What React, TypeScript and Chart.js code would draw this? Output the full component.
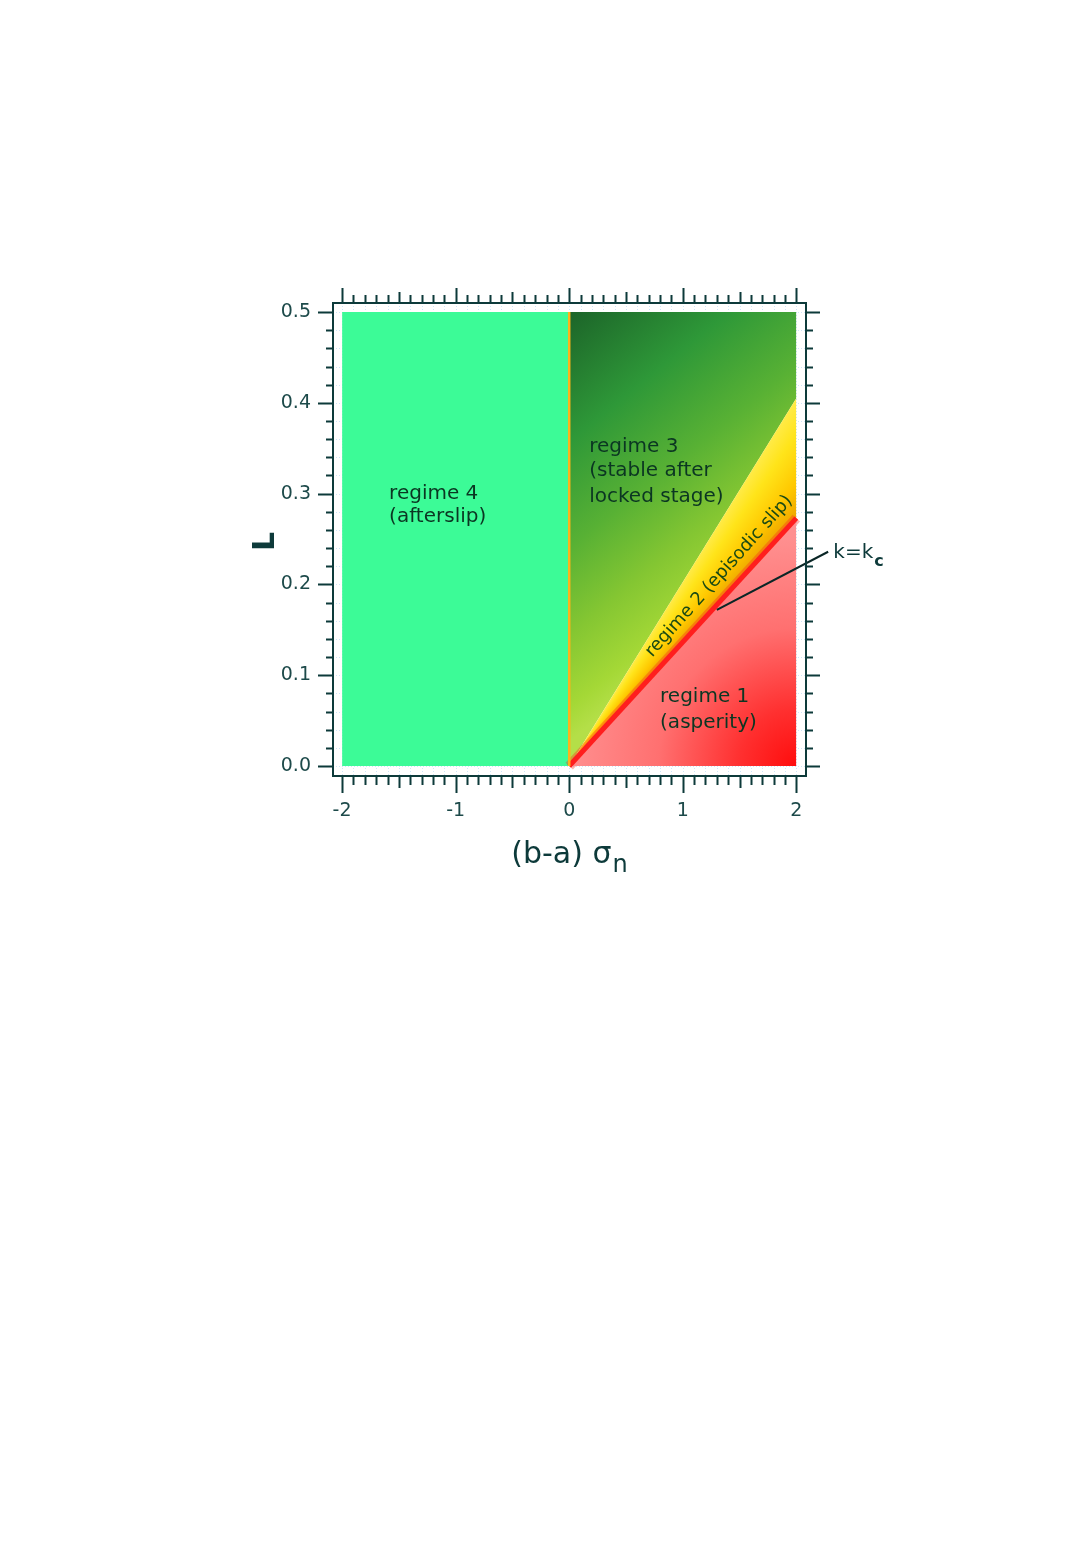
import React, { useEffect, useRef } from 'react';
import { Chart, registerables } from 'chart.js';
Chart.register(...registerables);

// ---- data ----
const xTickValues = [-2, -1, 0, 1, 2];
const yTickValues = [0, 0.1, 0.2, 0.3, 0.4, 0.5];
const xRange = [-2.08, 2.085];
const yRange = [-0.011, 0.51];

const regime4X = [-2, 0];
const regime4Top = [0.5, 0.5];
const rightX = [0, 2];
const regime3Top = [0.5, 0.5];
const upperBoundary = [0, 0.405]; // upper edge of regime 2
const kcBoundary = [0, 0.273]; // k = kc
const dividerX = [0, 0];
const dividerY = [0, 0.5];
const leaderX = [1.3, 2.28];
const leaderY = [0.172, 0.236];

const regionLabels = [
  { lines: ['regime 4', '(afterslip)'], x: -1.586, y: [0.3, 0.274] },
  { lines: ['regime 3', '(stable after', 'locked stage)'], x: 0.176, y: [0.352, 0.325, 0.297] },
  { lines: ['regime 1', '(asperity)'], x: 0.8, y: [0.076, 0.048] },
];
const regime2Label = { text: 'regime 2 (episodic slip)', x: 1.32, y: 0.209 };
const kcLabel = { main: 'k=k', sub: 'c', x: 2.326, y: 0.2346 };

const pts = (xs: number[], ys: number[]) => xs.map((x, i) => ({ x, y: ys[i] }));

const INK = '#0d3a3a';
const TEXT = '#0b3622';

function regime3Fill(c: any) {
  const ch = c.chart;
  if (!ch.chartArea) return '#3a9a3a';
  const { x, y } = ch.scales;
  const sx = x.getPixelForValue(0);
  const sy = y.getPixelForValue(0.5);
  const g = ch.ctx.createLinearGradient(sx, sy, sx + 210, sy + 260);
  g.addColorStop(0, '#1c6429');
  g.addColorStop(0.3, '#2e9838');
  g.addColorStop(0.55, '#58b134');
  g.addColorStop(0.75, '#84c632');
  g.addColorStop(0.92, '#a4d836');
  g.addColorStop(1, '#b4df48');
  return g;
}

function regime2Fill(c: any) {
  const ch = c.chart;
  if (!ch.chartArea) return '#ffd800';
  const { x, y } = ch.scales;
  const ox = x.getPixelForValue(rightX[0]);
  const oy = y.getPixelForValue(0);
  const ex = x.getPixelForValue(rightX[1]);
  const a1 = Math.atan2(y.getPixelForValue(upperBoundary[1]) - oy, ex - ox);
  const a2 = Math.atan2(y.getPixelForValue(kcBoundary[1]) - oy, ex - ox);
  const span = (a2 - a1) / (2 * Math.PI);
  const g = ch.ctx.createConicGradient(a1 - 0.01, ox, oy);
  g.addColorStop(0, '#ffec50');
  g.addColorStop(span * 0.3, '#ffe41a');
  g.addColorStop(span * 0.7, '#ffc800');
  g.addColorStop(span + 0.003, '#eaa000');
  g.addColorStop(1, '#eaa000');
  return g;
}

function regime1Fill(c: any) {
  const ch = c.chart;
  if (!ch.chartArea) return '#ff8080';
  const { x, y } = ch.scales;
  const cx = x.getPixelForValue(2);
  const cy = y.getPixelForValue(0);
  const g = ch.ctx.createRadialGradient(cx, cy, 0, cx, cy, 230);
  g.addColorStop(0, '#ff0d0d');
  g.addColorStop(0.25, '#ff3030');
  g.addColorStop(0.6, '#ff7070');
  g.addColorStop(1, '#ff9090');
  return g;
}

const framePlugin = {
  id: 'framePlugin',
  beforeDatasetsDraw(chart: any) {
    const { ctx, chartArea, scales } = chart;
    const { left, right, top, bottom } = chartArea;
    const { x, y } = scales;
    ctx.save();
    ctx.strokeStyle = '#cde6f8';
    ctx.lineWidth = 1;
    ctx.setLineDash([1, 2]);
    ctx.beginPath();
    for (let i = -20; i <= 20; i++) {
      const px = Math.round(x.getPixelForValue(i / 10)) + 0.5;
      ctx.moveTo(px, top); ctx.lineTo(px, bottom);
    }
    for (let j = 0; j <= 25; j++) {
      const py = Math.round(y.getPixelForValue(j * 0.02)) + 0.5;
      ctx.moveTo(left, py); ctx.lineTo(right, py);
    }
    ctx.stroke();
    ctx.restore();
  },
  afterDatasetsDraw(chart: any) {
    const { ctx, scales } = chart;
    const { x, y } = scales;
    ctx.save();
    ctx.fillStyle = TEXT;
    ctx.font = '20px "DejaVu Sans"';
    ctx.textAlign = 'left';
    ctx.textBaseline = 'middle';
    for (const lab of regionLabels) {
      lab.lines.forEach((t, i) => {
        ctx.fillText(t, x.getPixelForValue(lab.x), y.getPixelForValue(lab.y[i]));
      });
    }
    const ang = Math.atan2(
      y.getPixelForValue(kcBoundary[1]) - y.getPixelForValue(kcBoundary[0]),
      x.getPixelForValue(rightX[1]) - x.getPixelForValue(rightX[0])
    );
    ctx.save();
    ctx.translate(x.getPixelForValue(regime2Label.x), y.getPixelForValue(regime2Label.y));
    ctx.rotate(ang - 0.01);
    ctx.textAlign = 'center';
    ctx.font = '18px "DejaVu Sans"';
    ctx.fillStyle = '#1a4a14';
    ctx.fillText(regime2Label.text, 0, 0);
    ctx.restore();
    ctx.restore();
  },
  afterDraw(chart: any) {
    const { ctx, chartArea, scales } = chart;
    const { left, right, top, bottom } = chartArea;
    const { x, y } = scales;
    ctx.save();
    ctx.strokeStyle = INK;
    ctx.lineWidth = 2;
    ctx.strokeRect(left, top, right - left, bottom - top);
    ctx.beginPath();
    for (let j = 0; j <= 25; j++) {
      const py = Math.round(y.getPixelForValue(j * 0.02)) + 0.5;
      const major = j % 5 === 0;
      const lenL = major ? 15 : 7;
      const lenR = major ? 14 : 7;
      ctx.moveTo(left, py); ctx.lineTo(left - lenL, py);
      ctx.moveTo(right, py); ctx.lineTo(right + lenR, py);
    }
    for (let i = -20; i <= 20; i++) {
      const px = Math.round(x.getPixelForValue(i / 10)) + 0.5;
      const major = i % 10 === 0;
      const mid = !major && i % 5 === 0;
      const lenT = major ? 15 : mid ? 11 : 8;
      const lenB = major ? 17 : mid ? 12 : 9;
      ctx.moveTo(px, top); ctx.lineTo(px, top - lenT);
      ctx.moveTo(px, bottom); ctx.lineTo(px, bottom + lenB);
    }
    ctx.lineWidth = 2;
    ctx.stroke();

    ctx.fillStyle = INK;
    ctx.save();
    ctx.translate(left - 67, (top + bottom) / 2 + 2);
    ctx.rotate(-Math.PI / 2);
    ctx.font = 'bold 30px "DejaVu Sans"';
    ctx.textAlign = 'center';
    ctx.textBaseline = 'middle';
    ctx.fillText('L', 0, 0);
    ctx.restore();
    ctx.font = '30px "DejaVu Sans"';
    ctx.textAlign = 'left';
    ctx.textBaseline = 'alphabetic';
    const main = '(b-a) σ';
    const tx = x.getPixelForValue(0) - 58;
    const ty = bottom + 87;
    ctx.fillText(main, tx, ty);
    const w = ctx.measureText(main).width;
    ctx.font = '24px "DejaVu Sans"';
    ctx.fillText('n', tx + w + 1, ty + 9);

    ctx.font = '20px "DejaVu Sans"';
    ctx.textBaseline = 'middle';
    const kx = x.getPixelForValue(kcLabel.x);
    const ky = y.getPixelForValue(kcLabel.y);
    ctx.fillText(kcLabel.main, kx, ky);
    const kw = ctx.measureText(kcLabel.main).width;
    ctx.font = 'bold 16px "DejaVu Sans"';
    ctx.fillText(kcLabel.sub, kx + kw + 1, ky + 9);
    ctx.restore();
  },
};

export default function App() {
  const ref = useRef<HTMLCanvasElement | null>(null);
  useEffect(() => {
    if (!ref.current) return;
    const chart = new Chart(ref.current, {
      type: 'line',
      data: {
        datasets: [
          {
            label: 'divider',
            data: pts(dividerX, dividerY),
            borderColor: '#ffb21a',
            borderWidth: 2.5,
            pointRadius: 0,
            fill: false,
          },
          {
            label: 'leader',
            data: pts(leaderX, leaderY),
            borderColor: '#0a2626',
            borderWidth: 2,
            pointRadius: 0,
            fill: false,
            clip: false as any,
          },
          {
            label: 'k=kc (regime 1)',
            data: pts(rightX, kcBoundary),
            borderColor: '#ff1e1e',
            borderWidth: 5,
            pointRadius: 0,
            fill: 'origin',
            backgroundColor: regime1Fill as any,
          },
          {
            label: 'k=kc glow',
            data: pts(rightX, kcBoundary),
            borderColor: 'rgba(255,40,30,0.35)',
            borderWidth: 10,
            pointRadius: 0,
            fill: false,
          },
          {
            label: 'regime 2',
            data: pts(rightX, upperBoundary),
            borderWidth: 0,
            borderColor: 'rgba(0,0,0,0)',
            pointRadius: 0,
            fill: 2,
            backgroundColor: regime2Fill as any,
          },
          {
            label: 'regime 3',
            data: pts(rightX, regime3Top),
            borderWidth: 0,
            borderColor: 'rgba(0,0,0,0)',
            pointRadius: 0,
            fill: 4,
            backgroundColor: regime3Fill as any,
          },
          {
            label: 'regime 4',
            data: pts(regime4X, regime4Top),
            borderWidth: 0,
            borderColor: 'rgba(0,0,0,0)',
            pointRadius: 0,
            fill: 'origin',
            backgroundColor: '#3cfb97',
          },
        ],
      },
      options: {
        animation: false,
        responsive: false,
        events: [],
        layout: { padding: { left: 265, right: 274, top: 295, bottom: 715 } },
        plugins: { legend: { display: false }, tooltip: { enabled: false } },
        scales: {
          x: {
            type: 'linear',
            min: xRange[0],
            max: xRange[1],
            grid: { display: false, drawTicks: false },
            border: { display: false },
            afterFit: (s: any) => { s.height = 60; },
            afterBuildTicks: (s: any) => { s.ticks = xTickValues.map((v) => ({ value: v })); },
            ticks: {
              padding: 24,
              color: '#1d4a4a',
              font: { family: 'DejaVu Sans', size: 19 },
              callback: (v: any) => String(v),
              maxRotation: 0,
            },
          },
          y: {
            type: 'linear',
            min: yRange[0],
            max: yRange[1],
            grid: { display: false, drawTicks: false },
            border: { display: false },
            afterFit: (s: any) => { s.width = 60; },
            afterBuildTicks: (s: any) => { s.ticks = yTickValues.map((v) => ({ value: v })); },
            ticks: {
              padding: 22,
              color: '#1d4a4a',
              font: { family: 'DejaVu Sans', size: 19 },
              callback: (v: any) => Number(v).toFixed(1),
            },
          },
        },
      },
      plugins: [framePlugin],
    });
    return () => chart.destroy();
  }, []);
  return (
    <div style={{ width: 1072, height: 1543 }}>
      <canvas ref={ref} width={1072} height={1543} style={{ display: 'block' }} />
    </div>
  );
}
